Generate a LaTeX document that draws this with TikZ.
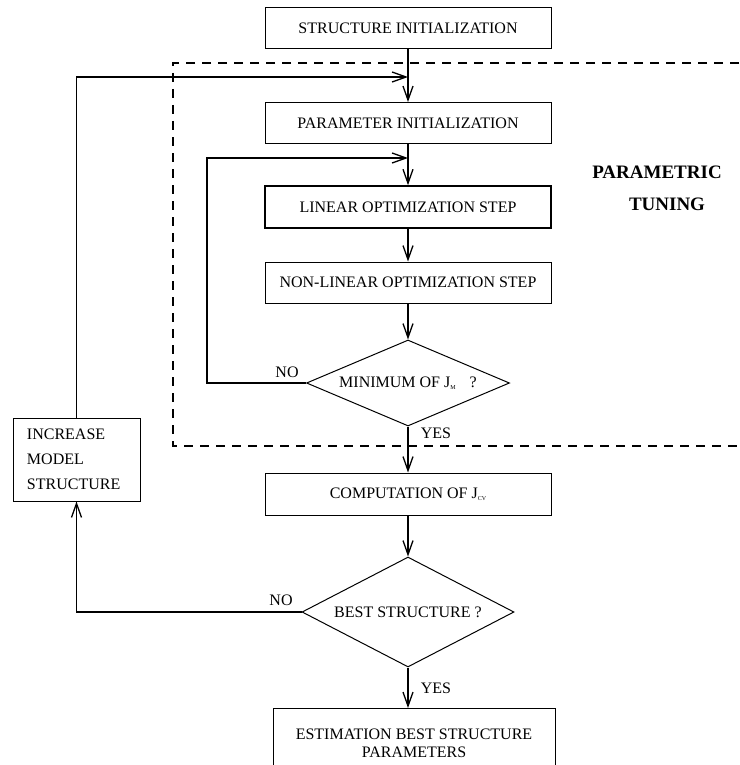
\documentclass[tikz,border=0pt]{standalone}
\usepackage{fontspec}
\setmainfont{Liberation Serif}
\usepackage{tikz}
\usetikzlibrary{
    arrows.meta,
    shapes.geometric
}
\newcommand{\lowidx}[1]{\raisebox{-2.5pt}{\fontsize{6}{6}\selectfont #1}}
\tikzset
{
  stepbox/.style={draw,line width=1pt,minimum width=286pt,minimum height=41pt,inner sep=0pt,font=\fontsize{16}{20}\selectfont},
  testbox/.style={draw,diamond,line width=1pt,aspect=2.4,inner sep=0pt,font=\fontsize{16}{20}\selectfont},
  flow/.style={draw,line width=1.3pt,-{Straight Barb[length=14pt,width=10pt]}},
  answer/.style={font=\fontsize{16}{20}\selectfont},
  stage/.style={draw,line width=1.3pt,dash pattern=on 9pt off 7pt}
}

\begin{document}
\begin{tikzpicture}[x=1pt,y=-1pt]
        \clip (0,0) rectangle (739,765);

        % Parametric tuning stage
        \draw[stage] (739,63) -- (173,63) -- (173,446) -- (739,446);
        \node[font=\bfseries\fontsize{19}{23}\selectfont] (partitle) at (657,172) {PARAMETRIC};
        \node[font=\bfseries\fontsize{19}{23}\selectfont] (tuntitle) at (667,204) {TUNING};

        % Blocks
        \node[stepbox] (strinit) at (408,28.5) {STRUCTURE INITIALIZATION};
        \node[stepbox] (parinit) at (408,123) {PARAMETER INITIALIZATION};
        \node[stepbox,line width=1.6pt,minimum height=42pt] (linopt) at (408,207) {LINEAR OPTIMIZATION STEP};
        \node[stepbox] (nlopt) at (408,282.5) {NON-LINEAR OPTIMIZATION STEP};
        \node[testbox,minimum width=203pt,minimum height=86pt] (minjm) at (408,383) {MINIMUM OF J\lowidx{M}\hspace{14pt}?};
        \node[stepbox,minimum height=42pt] (compcv) at (408,494) {COMPUTATION OF J\lowidx{CV}};
        \node[testbox,minimum width=212pt,minimum height=110pt] (beststr) at (408,612) {BEST STRUCTURE ?};
        \node[stepbox,minimum width=282pt,minimum height=70pt,anchor=north,align=center,font=\fontsize{16}{18}\selectfont] (estim) at (414,708) {ESTIMATION BEST STRUCTURE\\PARAMETERS};
        \node[stepbox,minimum width=127pt,minimum height=83pt,text width=99pt,align=left,font=\fontsize{16}{25}\selectfont] (incmod) at (76.5,459.5) {INCREASE\\MODEL\\STRUCTURE};

        % Junctions on the main line
        \coordinate (jtop) at (408,77);
        \coordinate (jin) at (408,158);
        \coordinate (innerx) at (207,158);

        % Main flow
        \draw[flow] (strinit) -- (parinit);
        \draw[flow] (parinit) -- (linopt);
        \draw[flow] (linopt) -- (nlopt);
        \draw[flow] (nlopt) -- (minjm);
        \draw[flow] (minjm) -- (compcv);
        \draw[flow] (compcv) -- (beststr);
        \draw[flow] (beststr.south) -- (beststr.south |- estim.north);

        % Loops back
        \draw[flow] (minjm.west) -| (innerx) -- (jin);
        \draw[flow] (incmod.north) |- (jtop);
        \draw[flow] (beststr.west) -| (incmod.south);

        % Answers
        \node[answer] (nomin) at (287,372) {NO};
        \node[answer] (yesmin) at (436,433) {YES};
        \node[answer] (nobest) at (281,600) {NO};
        \node[answer] (yesbest) at (436,688) {YES};
\end{tikzpicture}
\end{document}
